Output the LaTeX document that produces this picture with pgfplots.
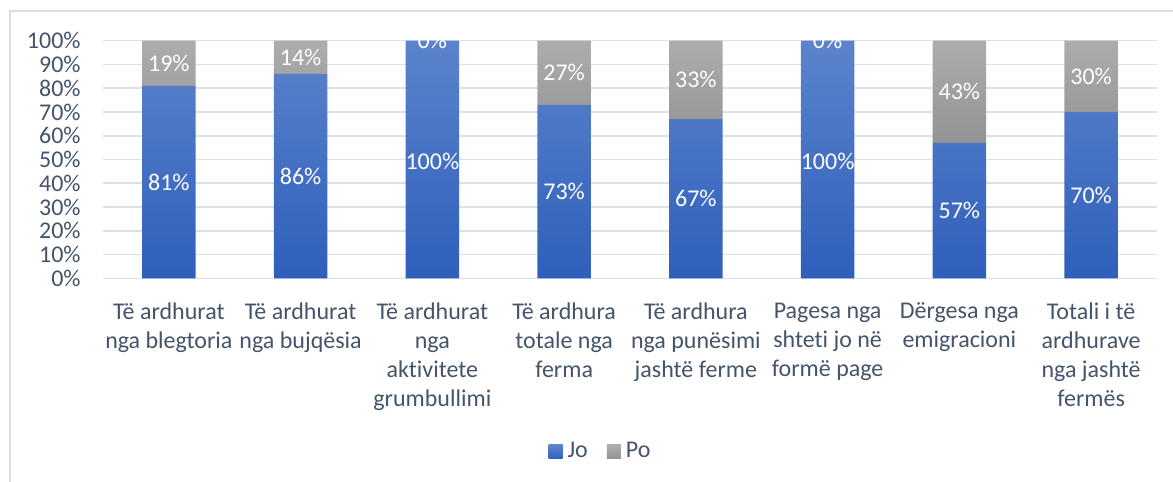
\documentclass[border=0pt]{standalone}
\usepackage{pgfplots}
\pgfplotsset{compat=1.18}
\usepackage{fontspec}
\setmainfont{Carlito}[Ligatures=NoCommon]
\definecolor{txt}{HTML}{44546A}
\definecolor{gridc}{HTML}{DCE1E8}
\definecolor{frame}{HTML}{D9DEE6}
\definecolor{blueTop}{HTML}{5B84CC}
\definecolor{blueBot}{HTML}{2F5FBB}
\definecolor{grayTop}{HTML}{ADADAD}
\definecolor{grayBot}{HTML}{939393}
\begin{document}
\fontsize{12bp}{14.5bp}\selectfont
\begin{tikzpicture}
\useasboundingbox (0,0) rectangle (586.5bp,241bp);
\draw[color=frame, line width=0.75bp] (5bp,0) -- (5bp,235.5bp) -- (586.5bp,235.5bp);
\pgfplotsset{
  common/.style={
    at={(51.5bp,101.85bp)}, anchor=south west,
    scale only axis, width=527bp, height=118.8bp,
    xmin=-0.5, xmax=7.5, ymin=0, ymax=100,
  }
}
\begin{axis}[common,
  ybar stacked, bar width=26.7bp,
  axis line style={draw=none},
  major tick length=0pt,
  ymajorgrids, major grid style={color=gridc, line width=0.8bp},
  ytick={0,10,...,100},
  yticklabels={0\%,10\%,20\%,30\%,40\%,50\%,60\%,70\%,80\%,90\%,100\%},
  yticklabel style={font=\fontsize{12bp}{14.5bp}\selectfont, text=txt, anchor=east, xshift=-7bp},
  xtick={0,...,7},
  xticklabels={{Të ardhurat\\nga blegtoria},{Të ardhurat\\nga bujqësia},{Të ardhurat\\nga\\aktivitete\\grumbullimi},{Të ardhura\\totale nga\\ferma},{Të ardhura\\nga punësimi\\jashtë ferme},{Pagesa nga\\shteti jo në\\formë page},{Dërgesa nga\\emigracioni},{Totali i të\\ardhurave\\nga jashtë\\fermës}},
  xticklabel style={font=\fontsize{12bp}{14.5bp}\selectfont, text=txt, align=center, anchor=north, yshift=-8bp},
  legend style={at={(0.4734,-0.731)}, anchor=center, draw=none, fill=none,
    legend columns=2, font=\fontsize{12bp}{14.5bp}\selectfont, text=txt,
    /tikz/every even column/.append style={column sep=7bp},
    nodes={inner sep=2.5bp}},
]
\addplot[draw=none, top color=blueTop, bottom color=blueBot,
  legend image code/.code={\shade[top color=blueTop, bottom color=blueBot] (0bp,-3.5bp) rectangle (7bp,3.5bp);}]
  coordinates {(0,81) (1,86) (2,100) (3,73) (4,67) (5,100) (6,57) (7,70)};
\addlegendentry{Jo}
\addplot[draw=none, top color=grayTop, bottom color=grayBot,
  legend image code/.code={\shade[top color=grayTop, bottom color=grayBot] (0bp,-3.5bp) rectangle (7bp,3.5bp);}]
  coordinates {(0,19) (1,14) (2,0) (3,27) (4,33) (5,0) (6,43) (7,30)};
\addlegendentry{Po}
\end{axis}
\begin{axis}[common, hide axis, clip marker paths=true]
\addplot[draw=none, nodes near coords, point meta=explicit symbolic,
  every node near coord/.append style={anchor=center, text=white, font=\fontsize{12bp}{14.5bp}\selectfont}]
  coordinates {(0,40.5)[81\%] (1,43)[86\%] (2,49)[100\%] (3,36.5)[73\%] (4,33.5)[67\%] (5,49)[100\%] (6,28.5)[57\%] (7,35)[70\%]
  (0,90.5)[19\%] (1,93)[14\%] (2,100)[0\%] (3,86.5)[27\%] (4,83.5)[33\%] (5,100)[0\%] (6,78.5)[43\%] (7,85)[30\%]};
\end{axis}
\end{tikzpicture}
\end{document}
